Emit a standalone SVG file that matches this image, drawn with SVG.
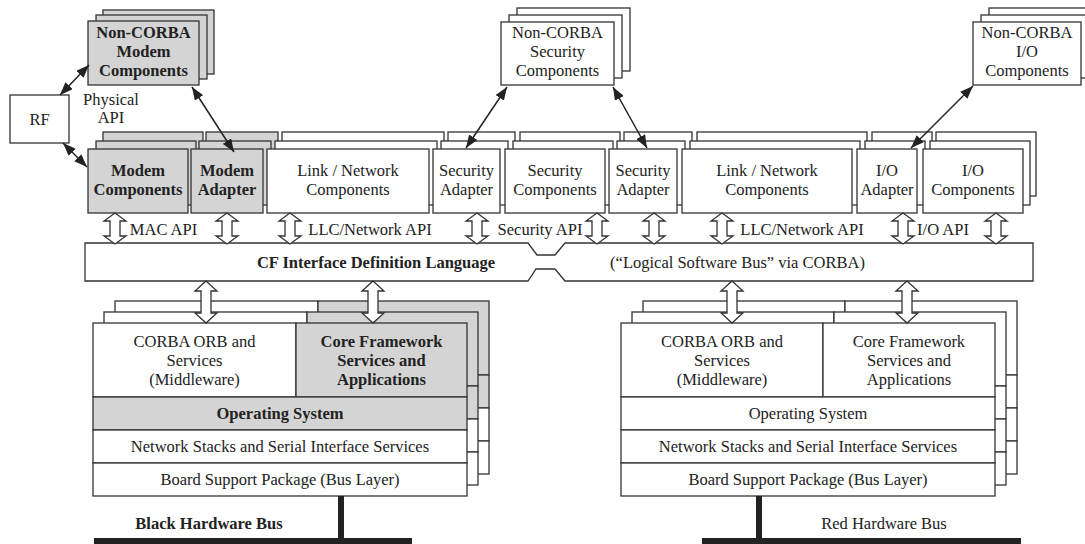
<svg xmlns="http://www.w3.org/2000/svg" xmlns:xlink="http://www.w3.org/1999/xlink" width="1085" height="544" viewBox="0 0 1085 544">
<style>
.w{fill:#fff;stroke:#333;stroke-width:1.3}
.g{fill:#d4d4d4;stroke:#333;stroke-width:1.3}
.t{font-family:"Liberation Serif","Times New Roman",serif;font-size:16.5px;fill:#222;text-anchor:middle}
.tb{font-family:"Liberation Serif","Times New Roman",serif;font-size:16.5px;fill:#222;text-anchor:middle;font-weight:bold}
.c{fill:none;stroke:#222;stroke-width:1.5}
.ha{fill:#fff;stroke:#333;stroke-width:1.3}
.bus{fill:none;stroke:#222;stroke-width:6}
</style>
<defs>
<marker id="ah" viewBox="0 0 13 10" refX="13" refY="5" markerWidth="13" markerHeight="10" markerUnits="userSpaceOnUse" orient="auto-start-reverse">
<path d="M0,0 L13,5 L0,10 z" fill="#222"/>
</marker>
<g id="stackBlack">
<rect class="w" x="0" y="0" width="203" height="74"/>
<rect class="g" x="203" y="0" width="171" height="74"/>
<rect class="g" x="0" y="74" width="374" height="33"/>
<rect class="w" x="0" y="107" width="374" height="33"/>
<rect class="w" x="0" y="140" width="374" height="33"/>
</g>
<g id="stackRed">
<rect class="w" x="0" y="0" width="202" height="74"/>
<rect class="w" x="202" y="0" width="172" height="74"/>
<rect class="w" x="0" y="74" width="374" height="33"/>
<rect class="w" x="0" y="107" width="374" height="33"/>
<rect class="w" x="0" y="140" width="374" height="33"/>
</g>
</defs>

<!-- Top non-CORBA components -->
<g id="nc-modem">
<rect class="g" x="103" y="10" width="111" height="64"/>
<rect class="g" x="96" y="15" width="111" height="64"/>
<rect class="g" x="88" y="21" width="111" height="64"/>
<text class="tb" x="143.5" y="38">Non-CORBA</text>
<text class="tb" x="143.5" y="57">Modem</text>
<text class="tb" x="143.5" y="76">Components</text>
</g>
<g id="nc-security">
<rect class="w" x="517" y="8" width="113" height="63"/>
<rect class="w" x="509" y="15" width="113" height="63"/>
<rect class="w" x="501" y="22" width="113" height="63"/>
<text class="t" x="557.5" y="38">Non-CORBA</text>
<text class="t" x="557.5" y="57">Security</text>
<text class="t" x="557.5" y="76">Components</text>
</g>
<g id="nc-io">
<rect class="w" x="989" y="8" width="108" height="63"/>
<rect class="w" x="981" y="15" width="108" height="63"/>
<rect class="w" x="973" y="22" width="108" height="63"/>
<text class="t" x="1027" y="38">Non-CORBA</text>
<text class="t" x="1027" y="57">I/O</text>
<text class="t" x="1027" y="76">Components</text>
</g>
<g id="rf">
<rect class="w" x="10" y="95" width="59" height="48"/>
<text class="t" x="39.5" y="125">RF</text>
</g>
<g id="physical-api-label">
<text class="t" x="111" y="105">Physical</text>
<text class="t" x="111" y="123">API</text>
</g>

<!-- Row of components -->
<g id="modem-components">
<rect class="g" x="103" y="132" width="100" height="64"/>
<rect class="g" x="96" y="141" width="100" height="64"/>
<rect class="g" x="88" y="149" width="100" height="64"/>
<text class="tb" x="138" y="176">Modem</text>
<text class="tb" x="138" y="195">Components</text>
</g>
<g id="modem-adapter">
<rect class="g" x="206" y="132" width="72" height="64"/>
<rect class="g" x="199" y="141" width="72" height="64"/>
<rect class="g" x="191" y="149" width="72" height="64"/>
<text class="tb" x="227" y="176">Modem</text>
<text class="tb" x="227" y="195">Adapter</text>
</g>
<g id="link-network-1">
<rect class="w" x="282" y="132" width="162" height="64"/>
<rect class="w" x="275" y="141" width="162" height="64"/>
<rect class="w" x="267" y="149" width="162" height="64"/>
<text class="t" x="348" y="176">Link / Network</text>
<text class="t" x="348" y="195">Components</text>
</g>
<g id="security-adapter-1">
<rect class="w" x="448" y="132" width="67" height="64"/>
<rect class="w" x="441" y="141" width="67" height="64"/>
<rect class="w" x="433" y="149" width="67" height="64"/>
<text class="t" x="466.5" y="176">Security</text>
<text class="t" x="466.5" y="195">Adapter</text>
</g>
<g id="security-components">
<rect class="w" x="520" y="132" width="100" height="64"/>
<rect class="w" x="513" y="141" width="100" height="64"/>
<rect class="w" x="505" y="149" width="100" height="64"/>
<text class="t" x="555" y="176">Security</text>
<text class="t" x="555" y="195">Components</text>
</g>
<g id="security-adapter-2">
<rect class="w" x="624" y="132" width="68" height="64"/>
<rect class="w" x="617" y="141" width="68" height="64"/>
<rect class="w" x="609" y="149" width="68" height="64"/>
<text class="t" x="643" y="176">Security</text>
<text class="t" x="643" y="195">Adapter</text>
</g>
<g id="link-network-2">
<rect class="w" x="697" y="132" width="170" height="64"/>
<rect class="w" x="690" y="141" width="170" height="64"/>
<rect class="w" x="682" y="149" width="170" height="64"/>
<text class="t" x="767" y="176">Link / Network</text>
<text class="t" x="767" y="195">Components</text>
</g>
<g id="io-adapter">
<rect class="w" x="872" y="132" width="60" height="64"/>
<rect class="w" x="865" y="141" width="60" height="64"/>
<rect class="w" x="857" y="149" width="60" height="64"/>
<text class="t" x="887" y="176">I/O</text>
<text class="t" x="887" y="195">Adapter</text>
</g>
<g id="io-components">
<rect class="w" x="936" y="132" width="100" height="64"/>
<rect class="w" x="930" y="141" width="100" height="64"/>
<rect class="w" x="923" y="149" width="100" height="64"/>
<text class="t" x="973" y="176">I/O</text>
<text class="t" x="973" y="195">Components</text>
</g>

<!-- CF IDL bus -->
<g id="cf-idl-bus">
<path class="w" d="M85,243 L528,243 L537,255 L555,255 L565,243 L1033,243 L1033,281 L565,281 L555,269 L536,269 L528,281 L85,281 Z"/>
<text class="tb" x="376" y="268">CF Interface Definition Language</text>
<text class="t" x="737.5" y="268">(“Logical Software Bus” via CORBA)</text>
</g>

<!-- API labels -->
<g id="api-labels">
<text class="t" x="163.5" y="235">MAC API</text>
<text class="t" x="370" y="235">LLC/Network API</text>
<text class="t" x="540" y="235">Security API</text>
<text class="t" x="802" y="235">LLC/Network API</text>
<text class="t" x="943" y="235">I/O API</text>
</g>

<!-- Black stack -->
<g id="black-stack">
<use xlink:href="#stackBlack" href="#stackBlack" x="115" y="301"/>
<use xlink:href="#stackBlack" href="#stackBlack" x="104" y="312"/>
<use xlink:href="#stackBlack" href="#stackBlack" x="93" y="323"/>
<text class="t" x="194.5" y="347">CORBA ORB and</text>
<text class="t" x="194.5" y="366">Services</text>
<text class="t" x="194.5" y="385">(Middleware)</text>
<text class="tb" x="381.5" y="347">Core Framework</text>
<text class="tb" x="381.5" y="366">Services and</text>
<text class="tb" x="381.5" y="385">Applications</text>
<text class="tb" x="280" y="419">Operating System</text>
<text class="t" x="280" y="452">Network Stacks and Serial Interface Services</text>
<text class="t" x="280" y="485">Board Support Package (Bus Layer)</text>
</g>
<!-- Red stack -->
<g id="red-stack">
<use xlink:href="#stackRed" href="#stackRed" x="643" y="301"/>
<use xlink:href="#stackRed" href="#stackRed" x="632" y="312"/>
<use xlink:href="#stackRed" href="#stackRed" x="621" y="323"/>
<text class="t" x="722" y="347">CORBA ORB and</text>
<text class="t" x="722" y="366">Services</text>
<text class="t" x="722" y="385">(Middleware)</text>
<text class="t" x="909" y="347">Core Framework</text>
<text class="t" x="909" y="366">Services and</text>
<text class="t" x="909" y="385">Applications</text>
<text class="t" x="808" y="419">Operating System</text>
<text class="t" x="808" y="452">Network Stacks and Serial Interface Services</text>
<text class="t" x="808" y="485">Board Support Package (Bus Layer)</text>
</g>

<g id="black-bus">
<path class="bus" d="M341,496 L341,541 M94,541 L412,541"/>
<text class="tb" x="209" y="529">Black Hardware Bus</text>
</g>
<g id="red-bus">
<path class="bus" d="M759,496 L759,541 M702,541 L1021,541"/>
<text class="t" x="884" y="529">Red Hardware Bus</text>
</g>

<!-- Connectors -->
<g id="connectors">
<line class="c" x1="60" y1="95" x2="89" y2="65" marker-start="url(#ah)" marker-end="url(#ah)"/>
<line class="c" x1="63" y1="143" x2="87" y2="167" marker-start="url(#ah)" marker-end="url(#ah)"/>
<line class="c" x1="192" y1="87" x2="234" y2="152" marker-start="url(#ah)" marker-end="url(#ah)"/>
<line class="c" x1="507" y1="87" x2="466" y2="148" marker-start="url(#ah)" marker-end="url(#ah)"/>
<line class="c" x1="613" y1="87" x2="647" y2="148" marker-start="url(#ah)" marker-end="url(#ah)"/>
<line class="c" x1="973" y1="86" x2="911" y2="148" marker-start="url(#ah)" marker-end="url(#ah)"/>
<!-- hollow double arrows row to bus -->
<path class="ha" d="M115,213 L126,221 L120,221 L120,236 L126,236 L115,244 L104,236 L110,236 L110,221 L104,221 Z"/>
<path class="ha" d="M227,213 L238,221 L232,221 L232,236 L238,236 L227,244 L216,236 L222,236 L222,221 L216,221 Z"/>
<path class="ha" d="M290,213 L301,221 L295,221 L295,236 L301,236 L290,244 L279,236 L285,236 L285,221 L279,221 Z"/>
<path class="ha" d="M477,213 L488,221 L482,221 L482,236 L488,236 L477,244 L466,236 L472,236 L472,221 L466,221 Z"/>
<path class="ha" d="M597,213 L608,221 L602,221 L602,236 L608,236 L597,244 L586,236 L592,236 L592,221 L586,221 Z"/>
<path class="ha" d="M654,213 L665,221 L659,221 L659,236 L665,236 L654,244 L643,236 L649,236 L649,221 L643,221 Z"/>
<path class="ha" d="M722,213 L733,221 L727,221 L727,236 L733,236 L722,244 L711,236 L717,236 L717,221 L711,221 Z"/>
<path class="ha" d="M903,213 L914,221 L908,221 L908,236 L914,236 L903,244 L892,236 L898,236 L898,221 L892,221 Z"/>
<path class="ha" d="M996,213 L1007,221 L1001,221 L1001,236 L1007,236 L996,244 L985,236 L991,236 L991,221 L985,221 Z"/>
<!-- hollow double arrows bus to stacks -->
<path class="ha" d="M206,281 L217,291 L211,291 L211,313 L217,313 L206,323 L195,313 L201,313 L201,291 L195,291 Z"/>
<path class="ha" d="M373,281 L384,291 L378,291 L378,313 L384,313 L373,323 L362,313 L368,313 L368,291 L362,291 Z"/>
<path class="ha" d="M732,281 L743,291 L737,291 L737,313 L743,313 L732,323 L721,313 L727,313 L727,291 L721,291 Z"/>
<path class="ha" d="M907,281 L918,291 L912,291 L912,313 L918,313 L907,323 L896,313 L902,313 L902,291 L896,291 Z"/>
</g>
</svg>
